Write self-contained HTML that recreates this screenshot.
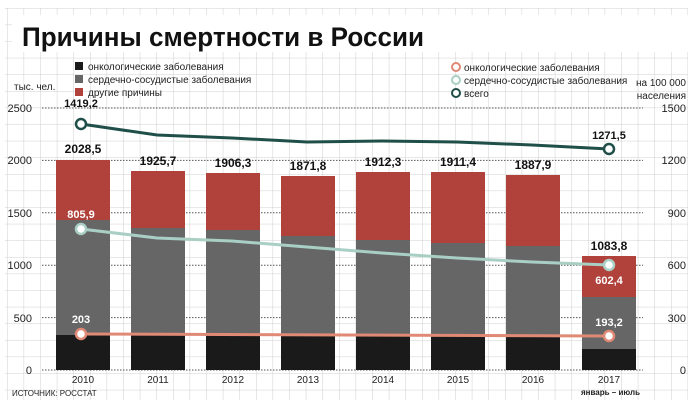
<!DOCTYPE html>
<html><head><meta charset="utf-8"><style>
body{margin:0;background:#fff}
svg{display:block}
text{font-family:"Liberation Sans","DejaVu Sans",sans-serif}
</style></head><body>
<svg width="700" height="408" viewBox="0 0 700 408" xmlns="http://www.w3.org/2000/svg">
<defs>
<pattern id="g" width="16.6" height="16.6" patternUnits="userSpaceOnUse" x="7" y="8">
<path d="M0 0H16.6M0 0V16.6" stroke="#cfcfcf" stroke-width="1" fill="none"/>
</pattern>
</defs>
<rect x="5" y="8" width="683" height="392" fill="url(#g)"/>
<rect x="12" y="15" width="678" height="37" fill="#fff"/>
<text x="22" y="46" font-size="27" font-weight="bold" fill="#111" font-family="Liberation Sans Narrow, Liberation Sans, sans-serif" textLength="402" lengthAdjust="spacingAndGlyphs">Причины смертности в России</text>

<!-- legends -->
<g font-size="10" fill="#222">
<rect x="75" y="62" width="8" height="8" fill="#1a1a1a"/><text x="88" y="70">онкологические заболевания</text>
<rect x="75" y="75" width="8" height="8" fill="#666"/><text x="88" y="83">сердечно-сосудистые заболевания</text>
<rect x="75" y="88" width="8" height="8" fill="#b0413b"/><text x="88" y="96">другие причины</text>
<circle cx="456" cy="67" r="4" fill="#fff" stroke="#e08a76" stroke-width="2"/><text x="464" y="71">онкологические заболевания</text>
<circle cx="456" cy="80" r="4" fill="#fff" stroke="#a9cfc5" stroke-width="2"/><text x="464" y="84">сердечно-сосудистые заболевания</text>
<circle cx="456" cy="93" r="4" fill="#fff" stroke="#1f4f48" stroke-width="2"/><text x="464" y="97">всего</text>
<text x="14" y="90">тыс. чел.</text>
<text x="686" y="86" text-anchor="end">на 100 000</text>
<text x="686" y="99" text-anchor="end">населения</text>
</g>

<!-- dotted gridlines -->
<g stroke="#555" stroke-width="1" stroke-dasharray="1.5,1.5">
<line x1="42" x2="643" y1="108" y2="108"/>
<line x1="42" x2="643" y1="160.4" y2="160.4"/>
<line x1="42" x2="643" y1="212.8" y2="212.8"/>
<line x1="42" x2="643" y1="265.2" y2="265.2"/>
<line x1="42" x2="643" y1="317.6" y2="317.6"/>
<line x1="42" x2="643" y1="370" y2="370"/>
</g>
<g font-size="11" fill="#222">
<text x="32" y="112" text-anchor="end">2500</text>
<text x="32" y="164" text-anchor="end">2000</text>
<text x="32" y="217" text-anchor="end">1500</text>
<text x="32" y="269" text-anchor="end">1000</text>
<text x="32" y="322" text-anchor="end">500</text>
<text x="32" y="374" text-anchor="end">0</text>
<text x="686" y="112" text-anchor="end">1500</text>
<text x="686" y="164" text-anchor="end">1200</text>
<text x="686" y="217" text-anchor="end">900</text>
<text x="686" y="269" text-anchor="end">600</text>
<text x="686" y="322" text-anchor="end">300</text>
<text x="686" y="374" text-anchor="end">0</text>
</g>

<!-- bars -->
<g>
<rect x="56" y="160" width="54" height="60" fill="#b0413b"/><rect x="56" y="220" width="54" height="115" fill="#666"/><rect x="56" y="335" width="54" height="35" fill="#1a1a1a"/>
<rect x="131" y="171" width="54" height="57" fill="#b0413b"/><rect x="131" y="228" width="54" height="107" fill="#666"/><rect x="131" y="335" width="54" height="35" fill="#1a1a1a"/>
<rect x="206" y="173" width="54" height="57" fill="#b0413b"/><rect x="206" y="230" width="54" height="105" fill="#666"/><rect x="206" y="335" width="54" height="35" fill="#1a1a1a"/>
<rect x="281" y="176" width="54" height="60" fill="#b0413b"/><rect x="281" y="236" width="54" height="99" fill="#666"/><rect x="281" y="335" width="54" height="35" fill="#1a1a1a"/>
<rect x="356" y="172" width="54" height="68" fill="#b0413b"/><rect x="356" y="240" width="54" height="95" fill="#666"/><rect x="356" y="335" width="54" height="35" fill="#1a1a1a"/>
<rect x="431" y="172" width="54" height="71" fill="#b0413b"/><rect x="431" y="243" width="54" height="92" fill="#666"/><rect x="431" y="335" width="54" height="35" fill="#1a1a1a"/>
<rect x="506" y="175" width="54" height="71" fill="#b0413b"/><rect x="506" y="246" width="54" height="89" fill="#666"/><rect x="506" y="335" width="54" height="35" fill="#1a1a1a"/>
<rect x="582" y="256" width="54" height="41" fill="#b0413b"/><rect x="582" y="297" width="54" height="52" fill="#666"/><rect x="582" y="349" width="54" height="21" fill="#1a1a1a"/>
</g>

<!-- lines -->
<polyline points="81,124 157,135 232,138 307,142 382,141 457,142 532,145 609,149" fill="none" stroke="#1f4f48" stroke-width="3"/>
<polyline points="81,229 157,238 232,241 307,247 382,253 457,258 532,262 609,265" fill="none" stroke="#a9cfc5" stroke-width="3"/>
<polyline points="81,334 609,336" fill="none" stroke="#e08a76" stroke-width="3"/>
<g fill="#fff" stroke-width="2.5">
<circle cx="81" cy="124" r="5" stroke="#1f4f48"/><circle cx="609" cy="149" r="5" stroke="#1f4f48"/>
<circle cx="81" cy="229" r="5" stroke="#a9cfc5"/><circle cx="609" cy="265" r="5" stroke="#a9cfc5"/>
<circle cx="81" cy="334" r="5" stroke="#e08a76"/><circle cx="609" cy="336" r="5" stroke="#e08a76"/>
</g>

<!-- value labels -->
<g font-size="12" font-weight="bold" fill="#111" text-anchor="middle">
<text x="83" y="153">2028,5</text>
<text x="158" y="165">1925,7</text>
<text x="233" y="167">1906,3</text>
<text x="308" y="170">1871,8</text>
<text x="383" y="166">1912,3</text>
<text x="458" y="166">1911,4</text>
<text x="533" y="169">1887,9</text>
<text x="609" y="250">1083,8</text>
<text x="81" y="107" font-size="11">1419,2</text>
<text x="609" y="139" font-size="11">1271,5</text>
</g>
<g font-size="11" font-weight="bold" fill="#fff" text-anchor="middle">
<text x="81" y="218">805,9</text>
<text x="81" y="323">203</text>
<text x="609" y="284">602,4</text>
<text x="609" y="326">193,2</text>
</g>

<g font-size="10" fill="#222" text-anchor="middle">
<text x="83" y="383">2010</text><text x="158" y="383">2011</text><text x="233" y="383">2012</text><text x="308" y="383">2013</text>
<text x="383" y="383">2014</text><text x="458" y="383">2015</text><text x="533" y="383">2016</text><text x="609" y="383">2017</text>
</g>
<text x="12" y="396" font-size="8" fill="#222">ИСТОЧНИК: РОССТАТ</text>
<text x="640" y="395" font-size="8" font-weight="bold" fill="#222" text-anchor="end">январь – июль</text>
</svg>
</body></html>
